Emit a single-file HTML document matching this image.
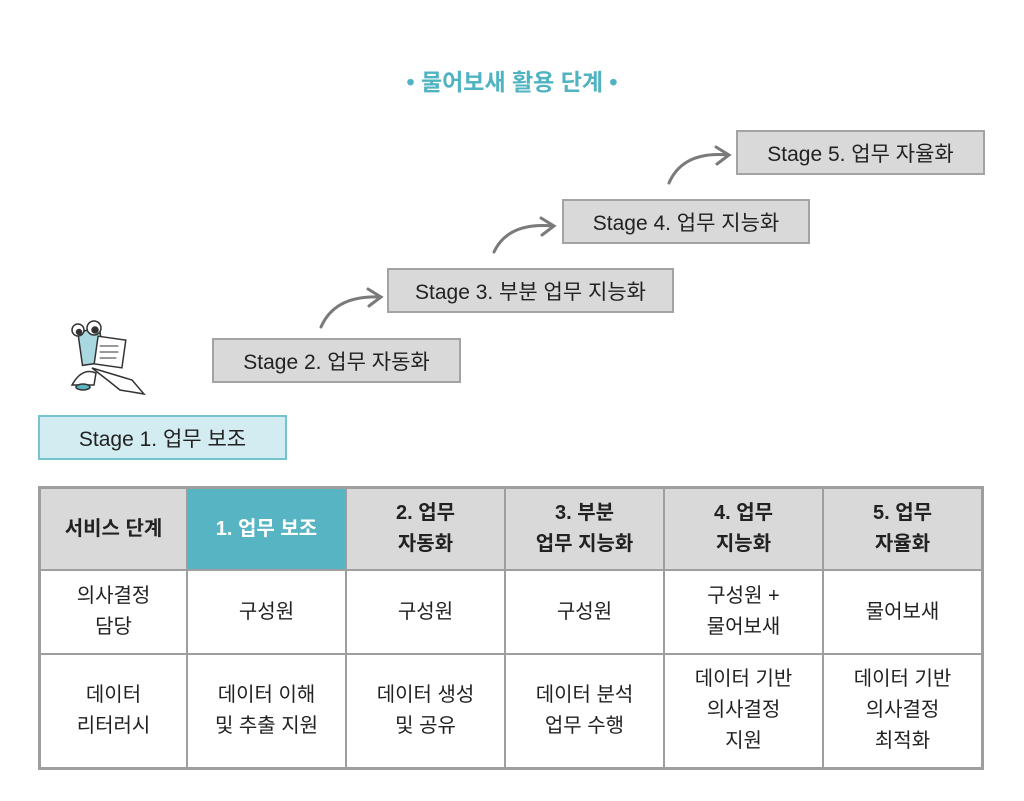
<!DOCTYPE html>
<html><head><meta charset="utf-8"><style>
body{margin:0;width:1024px;height:801px;background:#fff;position:relative;font-family:"Liberation Sans","Noto Sans CJK KR",sans-serif;overflow:hidden}
.t{position:absolute;left:0;width:1024px;top:63px;text-align:center;color:#4fb3c1;font-weight:bold;font-size:23px}
.b{position:absolute;box-sizing:border-box;background:#d9d9d9;border:2px solid #a3a3a3;font-size:21px;color:#222;display:flex;align-items:center;justify-content:center;height:45px}
table{position:absolute;left:38px;top:486px;border-collapse:collapse;border:3px solid #9e9e9e}
td{border:2px solid #9e9e9e;text-align:center;font-size:20px;color:#222;line-height:31px;padding:0}
tr.h td{background:#d9d9d9;font-weight:bold;height:80px}
</style></head><body>
<div class="t">• 물어보새 활용 단계 •</div>
<div class="b" style="left:38px;top:415px;width:249px;background:#d3ecf1;border-color:#74c4d0">Stage 1. 업무 보조</div>
<div class="b" style="left:212px;top:338px;width:249px">Stage 2. 업무 자동화</div>
<div class="b" style="left:387px;top:268px;width:287px">Stage 3. 부분 업무 지능화</div>
<div class="b" style="left:562px;top:199px;width:248px">Stage 4. 업무 지능화</div>
<div class="b" style="left:736px;top:130px;width:249px">Stage 5. 업무 자율화</div>
<svg style="position:absolute;left:0;top:0" width="1024" height="801" fill="none" stroke="#7a7a7a" stroke-width="3" stroke-linecap="round">
<path d="M321 327 Q335 295 380 297"/><path d="M368 289 L381 297 L369 306"/>
<path d="M494 252 Q508 222 553 226"/><path d="M541 218 L554 226 L542 235"/>
<path d="M669 183 Q683 151 728 155"/><path d="M716 147 L729 155 L717 164"/>
<g stroke="#333" stroke-width="1.5">
<rect x="80" y="330" width="22" height="34" fill="#a9d8e0" transform="rotate(-8 91 347)"/>
<circle cx="78" cy="330" r="6" fill="#fff"/><circle cx="94" cy="328" r="7" fill="#fff"/>
<circle cx="79" cy="332" r="2.5" fill="#333"/><circle cx="95" cy="330" r="3" fill="#333"/>
<rect x="96" y="338" width="28" height="28" fill="#fff" transform="rotate(8 110 352)"/>
<path d="M100 346h18M100 352h18M100 358h16" stroke-width="1"/>
<path d="M92 368 l40 12 l12 14 l-24 -4 l-10 -8 z" fill="#fff"/>
<path d="M72 385 q10 -18 24 -12 l-2 12 z" fill="#fff"/>
<ellipse cx="83" cy="387" rx="7" ry="3" fill="#5ab4c2"/>
</g>
</svg>
<table>
<tr class="h"><td style="width:145px">서비스 단계</td><td style="width:157px;background:#57b4c3;color:#fff">1. 업무 보조</td><td style="width:157px">2. 업무<br>자동화</td><td style="width:157px">3. 부분<br>업무 지능화</td><td style="width:157px">4. 업무<br>지능화</td><td style="width:157px">5. 업무<br>자율화</td></tr>
<tr style="height:84px"><td>의사결정<br>담당</td><td>구성원</td><td>구성원</td><td>구성원</td><td>구성원 +<br>물어보새</td><td>물어보새</td></tr>
<tr style="height:114px"><td>데이터<br>리터러시</td><td>데이터 이해<br>및 추출 지원</td><td>데이터 생성<br>및 공유</td><td>데이터 분석<br>업무 수행</td><td>데이터 기반<br>의사결정<br>지원</td><td>데이터 기반<br>의사결정<br>최적화</td></tr>
</table>
</body></html>
